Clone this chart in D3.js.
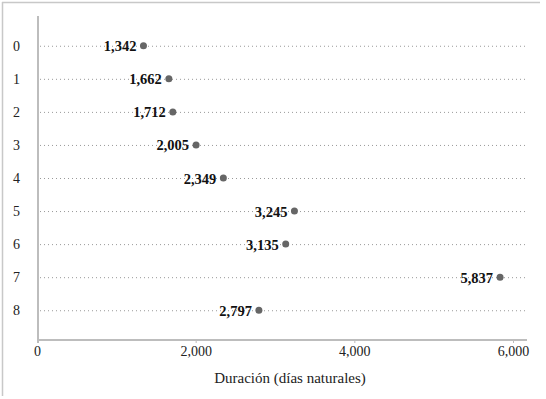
<!DOCTYPE html>
<html>
<head>
<meta charset="utf-8">
<script src="https://cdn.jsdelivr.net/npm/d3@7"></script>
<style>
    body { margin: 0; background: #fff; }
    svg { display: block; font-family: "Liberation Serif", "Times New Roman", serif; }
    svg text { font-family: "Liberation Serif", "Times New Roman", serif; }
</style>
</head>
<body>
<div id="chart"></div>
<script>
// rows and their durations (días naturales)
const categories = ["0", "1", "2", "3", "4", "5", "6", "7", "8"];
const durations = [1342, 1662, 1712, 2005, 2349, 3245, 3135, 5837, 2797];
const xTicks = [0, 2000, 4000, 6000];

const width = 546, height = 399;
const margin = { top: 16, right: 19, bottom: 59, left: 37 };

const svg = d3.select("#chart").append("svg")
    .attr("width", width)
    .attr("height", height);

// light frame (top and left only)
svg.append("line").attr("x1", 2).attr("x2", 540).attr("y1", 2.5).attr("y2", 2.5)
    .attr("stroke", "#c8c8c8").attr("stroke-width", 1.5);
svg.append("line").attr("x1", 2.5).attr("x2", 2.5).attr("y1", 2).attr("y2", 396)
    .attr("stroke", "#c8c8c8").attr("stroke-width", 1.5);

const x = d3.scaleLinear()
    .domain([0, 6000])
    .range([margin.left, 513]);

const y = d3.scalePoint()
    .domain(categories)
    .range([margin.top, height - margin.bottom])
    .padding(0.9);

const xEnd = width - margin.right; // end of axis line and grid

// dotted row lines
svg.append("g")
    .selectAll("line")
    .data(categories)
    .join("line")
    .attr("x1", margin.left + 3)
    .attr("x2", xEnd)
    .attr("y1", d => y(d) + 0.5)
    .attr("y2", d => y(d) + 0.5)
    .attr("stroke", "#999")
    .attr("stroke-width", 1)
    .attr("stroke-dasharray", "1,3");

// x axis
const xAxis = svg.append("g")
    .attr("transform", `translate(0,${height - margin.bottom})`)
    .call(d3.axisBottom(x).tickValues(xTicks).tickFormat(d3.format(",")).tickSize(3).tickPadding(3));
xAxis.select(".domain").remove();
xAxis.append("line")
    .attr("x1", margin.left).attr("x2", xEnd)
    .attr("stroke", "#bdbdbd").attr("stroke-width", 2);
xAxis.selectAll(".tick line").attr("stroke", "#bdbdbd");
xAxis.selectAll(".tick text")
    .attr("fill", "#222")
    .style("font-size", "14px");

// y axis line
svg.append("line")
    .attr("x1", margin.left + 1).attr("x2", margin.left + 1)
    .attr("y1", margin.top).attr("y2", height - margin.bottom + 3)
    .attr("stroke", "#bdbdbd").attr("stroke-width", 2);

// row labels
svg.append("g")
    .selectAll("text")
    .data(categories)
    .join("text")
    .attr("x", 16.5)
    .attr("y", d => y(d))
    .attr("dy", "0.35em")
    .attr("text-anchor", "middle")
    .attr("fill", "#222")
    .style("font-size", "14px")
    .text(d => d);

// points
svg.append("g")
    .selectAll("circle")
    .data(durations)
    .join("circle")
    .attr("cx", d => x(d))
    .attr("cy", (d, i) => y(categories[i]))
    .attr("r", 3.5)
    .attr("fill", "#666");

// value labels
svg.append("g")
    .selectAll("text")
    .data(durations)
    .join("text")
    .attr("x", d => x(d) - 7)
    .attr("y", (d, i) => y(categories[i]))
    .attr("dy", "0.38em")
    .attr("text-anchor", "end")
    .attr("fill", "#111")
    .style("font-size", "14.5px")
    .style("font-weight", "bold")
    .text(d => d3.format(",")(d));

// axis title
svg.append("text")
    .attr("x", 290)
    .attr("y", 383)
    .attr("text-anchor", "middle")
    .attr("fill", "#222")
    .style("font-size", "15px")
    .text("Duración (días naturales)");
</script>
</body>
</html>
